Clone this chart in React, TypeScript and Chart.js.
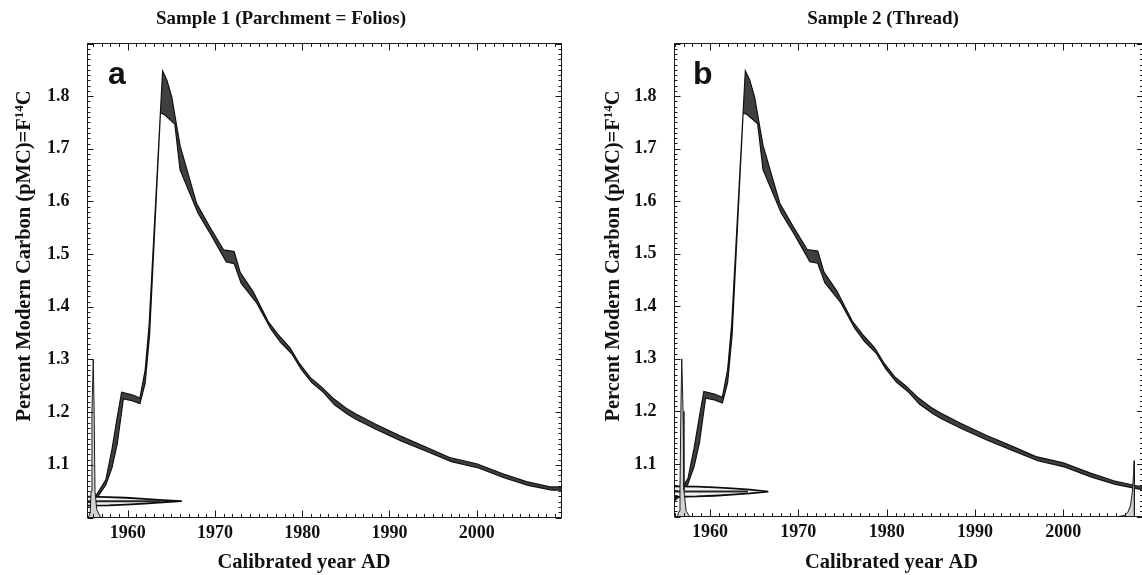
import React, { useEffect, useRef } from 'react';
import { Chart, registerables } from 'chart.js';

Chart.register(...registerables);

// ---- Calibration curve (atmospheric bomb curve band) ----
const curveUpperYear = [1955.5, 1956.5, 1957.5, 1958.2, 1958.8, 1959.3, 1960.5, 1961.4, 1962.0, 1962.45, 1964.0, 1964.5, 1965.05, 1966.0, 1967.9, 1969.4, 1971.0, 1972.2, 1972.9, 1974.4, 1976.1, 1977.3, 1978.6, 1979.7, 1980.9, 1982.2, 1983.5, 1985.0, 1986.0, 1988.3, 1991.2, 1994.3, 1996.9, 2000.0, 2003.0, 2005.7, 2008.4, 2009.8];
const curveUpperF = [1.028, 1.045, 1.072, 1.13, 1.19, 1.238, 1.233, 1.227, 1.28, 1.365, 1.848, 1.83, 1.798, 1.706, 1.596, 1.552, 1.508, 1.505, 1.465, 1.428, 1.372, 1.346, 1.322, 1.292, 1.266, 1.248, 1.227, 1.208, 1.198, 1.178, 1.155, 1.133, 1.114, 1.102, 1.083, 1.068, 1.058, 1.058];
const curveLowerYear = [1955.5, 1956.5, 1957.5, 1958.2, 1958.8, 1959.5, 1960.5, 1961.4, 1962.0, 1962.5, 1963.75, 1964.2, 1965.4, 1966.0, 1968.05, 1969.5, 1971.3, 1972.2, 1973.0, 1974.8, 1976.4, 1977.5, 1978.8, 1979.9, 1981.1, 1982.4, 1983.7, 1985.2, 1986.2, 1988.5, 1991.4, 1994.5, 1997.1, 2000.2, 2003.2, 2005.9, 2008.6, 2009.8];
const curveLowerF = [1.022, 1.038, 1.062, 1.095, 1.14, 1.225, 1.222, 1.216, 1.255, 1.345, 1.768, 1.765, 1.747, 1.66, 1.578, 1.538, 1.485, 1.482, 1.445, 1.407, 1.358, 1.333, 1.311, 1.281, 1.256, 1.238, 1.214, 1.196, 1.186, 1.167, 1.145, 1.124, 1.106, 1.094, 1.075, 1.061, 1.052, 1.052];

// ---- Tick labels ----
const xTickLabels = [1960, 1970, 1980, 1990, 2000];
const yTickLabels = [1.1, 1.2, 1.3, 1.4, 1.5, 1.6, 1.7, 1.8];

// ---- Texts ----
const titleA = 'Sample 1 (Parchment = Folios)';
const titleB = 'Sample 2 (Thread)';
const xTitle = 'Calibrated year AD';
const yTitleMain = 'Percent Modern Carbon (pMC)=F';
const yTitleSup = '14';
const yTitleEnd = 'C';

// ---- Sample 1: measured F14C distribution (drawn along the y axis) ----
const aMeasF = [1.0395, 1.0388, 1.0375, 1.0355, 1.033, 1.031, 1.029, 1.0265, 1.0245, 1.0232, 1.0225];
const aMeasYear = [1955.3, 1957.8, 1959.8, 1961.9, 1964.0, 1966.2, 1964.0, 1961.9, 1959.8, 1957.8, 1955.3];
const aMeanYear = [1955.3, 1963.8];
const aMeanF = [1.031, 1.031];
// Sample 1: calibrated age distribution (drawn along the x axis)
const aCalYear = [1955.5, 1955.7, 1955.8, 1955.9, 1956.05, 1956.15, 1956.25, 1956.45, 1956.9];
const aCalF = [1.0, 1.01, 1.05, 1.2, 1.3, 1.2, 1.05, 1.015, 1.0];

// ---- Sample 2 ----
const bMeasF = [1.0575, 1.0568, 1.0555, 1.0535, 1.051, 1.0475, 1.044, 1.0415, 1.0395, 1.0382, 1.0375];
const bMeasYear = [1955.9, 1958.5, 1960.5, 1962.5, 1964.5, 1966.6, 1964.5, 1962.5, 1960.5, 1958.5, 1955.9];
const bMeanYear = [1955.9, 1964.3];
const bMeanF = [1.0475, 1.0475];
const bCal1Year = [1956.3, 1956.5, 1956.6, 1956.7, 1956.8, 1956.95, 1957.05, 1957.3, 1957.7];
const bCal1F = [1.0, 1.01, 1.05, 1.2, 1.3, 1.2, 1.05, 1.01, 1.0];
const bCal2Year = [2006.2, 2006.9, 2007.3, 2007.6, 2007.8, 2007.95, 2008.02, 2008.05];
const bCal2F = [1.0, 1.002, 1.008, 1.02, 1.045, 1.08, 1.106, 1.0];

const pts = (xs: number[], ys: number[]) => xs.map((x, i) => ({ x, y: ys[i] }));

const SERIF = "'Liberation Serif', 'Times New Roman', serif";

type Panel = {
  key: string;
  left: number;
  width: number;
  plotLeft: number;
  plotRight: number;
  plotTop: number;
  plotBottom: number;
  xMin: number;
  xMax: number;
  title: string;
  titleX: number;
  xTitleX: number;
  yTitleX: number;
  letter: string;
  letterX: number;
  measYear: number[];
  measF: number[];
  meanYear: number[];
  meanF: number[];
  cals: { year: number[]; f: number[] }[];
};

const panels: Panel[] = [
  {
    key: 'a', left: 0, width: 562, plotLeft: 87.5, plotRight: 561.5, plotTop: 43.5, plotBottom: 517.5,
    xMin: 1955.39, xMax: 2009.72, title: titleA, titleX: 281, xTitleX: 304, yTitleX: 23,
    letter: 'a', letterX: 108,
    measYear: aMeasYear, measF: aMeasF, meanYear: aMeanYear, meanF: aMeanF,
    cals: [{ year: aCalYear, f: aCalF }],
  },
  {
    key: 'b', left: 592, width: 560, plotLeft: 82.5, plotRight: 551, plotTop: 43.5, plotBottom: 516.5,
    xMin: 1955.98, xMax: 2009.02, title: titleB, titleX: 291, xTitleX: 299.5, yTitleX: 20,
    letter: 'b', letterX: 101,
    measYear: bMeasYear, measF: bMeasF, meanYear: bMeanYear, meanF: bMeanF,
    cals: [{ year: bCal1Year, f: bCal1F }, { year: bCal2Year, f: bCal2F }],
  },
];

const decorPlugin = {
  id: 'decor',
  afterDatasetsDraw(chart: any) {
    const { ctx, chartArea: a, scales } = chart;
    const x = scales.x;
    const y = scales.y;
    ctx.save();
    ctx.strokeStyle = '#1a1a1a';
    ctx.lineWidth = 1;
    ctx.strokeRect(a.left, a.top, a.right - a.left, a.bottom - a.top);
    ctx.beginPath();
    for (let yr = Math.ceil(x.min); yr <= x.max; yr++) {
      const px = Math.round(x.getPixelForValue(yr)) + 0.5;
      const len = yr % 10 === 0 ? 7 : 3.5;
      ctx.moveTo(px, a.bottom);
      ctx.lineTo(px, a.bottom - len);
      ctx.moveTo(px, a.top);
      ctx.lineTo(px, a.top + len);
    }
    for (let k = Math.ceil(y.min * 100 - 1e-6); k <= Math.floor(y.max * 100 + 1e-6); k++) {
      const py = Math.round(y.getPixelForValue(k / 100)) + 0.5;
      const len = k % 10 === 0 ? 6 : 3;
      ctx.moveTo(a.left, py);
      ctx.lineTo(a.left + len, py);
      ctx.moveTo(a.right, py);
      ctx.lineTo(a.right - len, py);
    }
    ctx.stroke();
    ctx.restore();
  },
  afterDraw(chart: any, _args: any, opts: any) {
    const { ctx } = chart;
    ctx.save();
    ctx.fillStyle = '#111';
    ctx.textAlign = 'center';
    ctx.textBaseline = 'middle';
    ctx.font = `bold 19px ${SERIF}`;
    ctx.fillText(opts.title, opts.titleX, 19);
    ctx.font = `bold 20.5px ${SERIF}`;
    ctx.fillText(opts.xTitle, opts.xTitleX, 563);
    // panel letter
    ctx.textAlign = 'left';
    ctx.textBaseline = 'alphabetic';
    ctx.font = "bold 32px 'Liberation Sans', Arial, sans-serif";
    ctx.fillText(opts.letter, opts.letterX, 84);
    // rotated y title with superscript
    ctx.translate(opts.yTitleX, 256);
    ctx.rotate(-Math.PI / 2);
    const mainFont = `bold 20.5px ${SERIF}`;
    const supFont = `bold 13px ${SERIF}`;
    const parts: [string, string, number][] = [
      [yTitleMain, mainFont, 0],
      [yTitleSup, supFont, -7.5],
      [yTitleEnd, mainFont, 0],
    ];
    let total = 0;
    for (const [t, f] of parts) { ctx.font = f; total += ctx.measureText(t).width; }
    let cx = -total / 2;
    for (const [t, f, dy] of parts) {
      ctx.font = f;
      ctx.fillText(t, cx, 7 + dy);
      cx += ctx.measureText(t).width;
    }
    ctx.restore();
  },
};

function buildConfig(p: Panel): any {
  const curvePoly = [...pts(curveUpperYear, curveUpperF), ...pts(curveLowerYear, curveLowerF).reverse()];
  const calSets = p.cals.map((c) => ({
    data: pts(c.year, c.f),
    borderColor: '#1a1a1a',
    borderWidth: 1,
    backgroundColor: '#d2d2d2',
    fill: 'start',
    pointRadius: 0,
    tension: 0,
  }));
  const datasets = [
    ...calSets,
    {
      data: pts(p.meanYear, p.meanF),
      borderColor: '#262626',
      borderWidth: 2,
      fill: false,
      pointRadius: 0,
      tension: 0,
    },
    {
      data: pts(p.measYear, p.measF),
      borderColor: '#0d0d0d',
      borderWidth: 1.8,
      backgroundColor: '#f2f2f2',
      fill: 'shape',
      pointRadius: 0,
      tension: 0,
    },
    {
      data: curvePoly,
      borderColor: '#111',
      borderWidth: 1.2,
      backgroundColor: '#3f3f3f',
      fill: 'shape',
      pointRadius: 0,
      tension: 0,
    },
  ];
  const tickFont = { family: SERIF, weight: 'bold', size: 18 };
  return {
    type: 'line',
    data: { datasets },
    plugins: [decorPlugin],
    options: {
      animation: false,
      responsive: false,
      devicePixelRatio: 1,
      events: [],
      layout: { padding: { top: p.plotTop, right: p.width - p.plotRight, left: 0, bottom: 0 } },
      plugins: {
        legend: { display: false },
        tooltip: { enabled: false },
        filler: { drawTime: 'beforeDatasetDraw' },
        decor: {
          title: p.title, titleX: p.titleX, xTitle, xTitleX: p.xTitleX,
          yTitleX: p.yTitleX, letter: p.letter, letterX: p.letterX,
        },
      },
      scales: {
        x: {
          type: 'linear',
          min: p.xMin,
          max: p.xMax,
          grid: { display: false, drawTicks: false },
          border: { display: false },
          ticks: {
            stepSize: 10,
            includeBounds: false,
            autoSkip: false,
            maxRotation: 0,
            padding: 5,
            color: '#111',
            font: tickFont,
            callback: (v: number) => (xTickLabels.includes(Math.round(v)) && Math.abs(v - Math.round(v)) < 1e-6 ? String(Math.round(v)) : ''),
          },
          afterFit: (s: any) => { s.height = 575 - p.plotBottom; },
        },
        y: {
          type: 'linear',
          min: 1.0,
          max: 1.9,
          grid: { display: false, drawTicks: false },
          border: { display: false },
          ticks: {
            stepSize: 0.1,
            autoSkip: false,
            padding: 18,
            color: '#111',
            font: tickFont,
            callback: (v: number) => (yTickLabels.some((t) => Math.abs(t - v) < 1e-6) ? v.toFixed(1) : ''),
          },
          afterFit: (s: any) => { s.width = p.plotLeft; },
        },
      },
    },
  };
}

function PanelChart({ p }: { p: Panel }) {
  const ref = useRef<HTMLCanvasElement>(null);
  useEffect(() => {
    const chart = new Chart(ref.current as HTMLCanvasElement, buildConfig(p));
    return () => chart.destroy();
  }, [p]);
  return (
    <canvas
      ref={ref}
      width={p.width}
      height={575}
      style={{ position: 'absolute', left: p.left, top: 0, width: p.width, height: 575 }}
    />
  );
}

export default function App() {
  return (
    <div style={{ position: 'absolute', left: 0, top: 0, width: 1142, height: 575, overflow: 'hidden', background: '#fff' }}>
      {panels.map((p) => (
        <PanelChart key={p.key} p={p} />
      ))}
    </div>
  );
}
